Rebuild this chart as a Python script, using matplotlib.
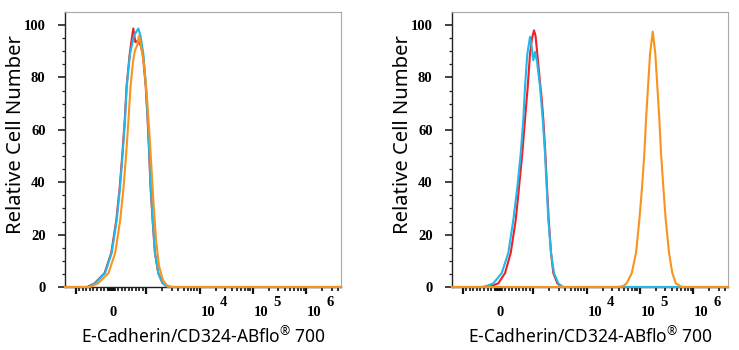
import matplotlib
matplotlib.use('Agg')
import matplotlib.pyplot as plt
import numpy as np

plt.rcParams['mathtext.fontset'] = 'custom'
plt.rcParams['mathtext.rm'] = 'Noto Sans'

# ---------------- data ----------------
# Left panel (fluorescence intensity, % of max)
left_red_x = [-1600, -680, -470, -185, 5, 150, 245, 322, 390, 440, 530, 590, 632, 690, 760, 850, 910, 985, 1060, 1135, 1205, 1315, 1455, 1680, 2030, 2550, 4.5e6]
left_red_y = [0, 0, 1.4, 5.3, 13, 25.6, 38, 51, 64, 76.5, 89, 95, 98.7, 93.5, 94, 92, 88, 76.5, 64, 51, 38, 25.6, 13, 5.3, 1.4, 0, 0]

left_orange_x = [-1600, -598, -371, -73, 118, 260, 354, 431, 496, 553, 624, 681, 738, 795, 851, 937, 1034, 1152, 1256, 1369, 1525, 1736, 2064, 2453, 3044, 4.5e6]
left_orange_y = [0, 0, 1.4, 5.3, 13, 25.6, 38, 51, 64, 76.5, 86, 90.5, 92, 96, 92, 85, 72, 58, 45, 32, 18, 8, 2.5, 0.6, 0, 0]

left_blue_x = [-1600, -655, -456, -172, 18, 161, 254, 331, 397, 445, 539, 652, 775, 837, 917, 994, 1066, 1142, 1213, 1322, 1461, 1685, 2037, 2562, 4.5e6]
left_blue_y = [0, 0, 1.4, 5.3, 13, 25.6, 38, 51, 64, 76.5, 89, 96, 98.7, 96, 89, 76.5, 64, 51, 38, 25.6, 13, 5.3, 1.4, 0, 0]

# Right panel
right_red_x = [-1600, -286, -181, 7, 198, 360, 502, 595, 689, 766, 843, 908, 965, 1034, 1103, 1192, 1340, 1441, 1545, 1685, 1813, 1951, 2155, 2380, 2829, 3421, 4.5e6]
right_red_y = [0, 0, 0.4, 1.4, 5.3, 13, 25.6, 38, 51, 64, 76.5, 89, 95, 98, 96, 89, 78, 72, 64, 51, 38, 25.6, 13, 5.3, 1.4, 0, 0]

right_orange_x = [-1600, 38930, 48960, 56710, 70390, 84770, 97740, 109800, 121300, 130600, 142300, 155200, 174400, 195100, 212700, 231900, 249600, 275700, 305800, 352600, 406600, 471000, 610600, 4.5e6]
right_orange_y = [0, 0, 0.4, 1.4, 5.3, 13, 25.6, 38, 51, 64, 76.5, 89, 97.5, 89, 76.5, 64, 51, 38, 25.6, 13, 5.3, 1.4, 0, 0]

right_blue_x = [-1600, -456, -323, -135, 104, 291, 433, 547, 644, 718, 766, 831, 908, 951, 1003, 1079, 1177, 1340, 1506, 1663, 1789, 1918, 2155, 2453, 2953, 3619, 4.5e6]
right_blue_y = [0, 0, 0.4, 1.4, 5.3, 13, 25.6, 38, 51, 64, 76.5, 89, 95.5, 92, 86.6, 89.8, 86, 76.5, 64, 51, 38, 25.6, 13, 5.3, 1.4, 0, 0]

y_ticks = [0, 20, 40, 60, 80, 100]
x_label_pos = [0, 1e4, 1e5, 1e6]
x_label_exp = ['', '4', '5', '6']
x_label_text = 'E-Cadherin/CD324-ABflo$^{\u00ae}$ 700'
y_label_text = 'Relative Cell Number'

RED = '#ee2128'
ORANGE = '#f7941d'
BLUE = '#22b8e8'

W, H = 739, 350
major_x = [-1e3, 1e3, 1e4, 1e5, 1e6]
minor_x = ([-k * 100 for k in range(2, 10)] + [-k * 10 for k in range(1, 10)] + [0] +
           [k * 10 for k in range(1, 10)] + [k * 100 for k in range(1, 10)] +
           [k * 1e3 for k in range(2, 10)] + [k * 1e4 for k in range(2, 10)] +
           [k * 1e5 for k in range(2, 10)] + [k * 1e6 for k in range(2, 5)])

LBL = dict(fontfamily='Liberation Serif', fontweight='bold', fontsize=10.5)


def build(use_lines=True, use_spines=True, use_y=True, use_ann=True, use_labels=True):
    fig = plt.figure(figsize=(W / 100, H / 100), dpi=100)
    panels = [
        (65, (left_red_x, left_red_y), (left_blue_x, left_blue_y), (left_orange_x, left_orange_y), 26),
        (452, (right_red_x, right_red_y), (right_blue_x, right_blue_y), (right_orange_x, right_orange_y), 413),
    ]
    for left_px, red, blue, orange, ylab_px in panels:
        ax = fig.add_axes([left_px / W, 63 / H, 276 / W, 275 / H])
        ax.set_xscale('symlog', linthresh=1000, linscale=0.594)
        ax.set_xlim(-1600, 4.5e6)
        ax.set_ylim(0, 105)
        ax.set_xticks(major_x)
        ax.set_xticks(minor_x, minor=True)
        ax.tick_params(axis='x', which='major', length=5, width=1.6, color='#111111',
                       labelbottom=False)
        ax.tick_params(axis='x', which='minor', length=3, width=1.2, color='#111111',
                       labelbottom=False)
        if use_lines:
            ax.plot(red[0], red[1], color=RED, lw=1.5, zorder=3, clip_on=False)
            ax.plot(blue[0], blue[1], color=BLUE, lw=1.5, zorder=4, clip_on=False)
            ax.plot(orange[0], orange[1], color=ORANGE, lw=1.5, zorder=5, clip_on=False)
        if use_spines:
            for s in ['top', 'right']:
                ax.spines[s].set_color('#a8a8a8')
                ax.spines[s].set_linewidth(0.8)
            for s in ['left', 'bottom']:
                ax.spines[s].set_color('#222222')
                ax.spines[s].set_linewidth(1.0)
        if use_y:
            ax.set_yticks(y_ticks)
            ax.set_yticks(list(range(0, 105, 5)), minor=True)
            ax.set_yticklabels([str(v) for v in y_ticks], **LBL)
            ax.tick_params(axis='y', which='major', length=5, width=1.2, pad=9, color='#222222')
            ax.tick_params(axis='y', which='minor', length=2.5, width=0.9, color='#222222')
        if use_ann:
            for pos, ex in zip(x_label_pos, x_label_exp):
                if ex == '':
                    ax.annotate('0', xy=(pos, 0), xycoords=('data', 'axes fraction'),
                                xytext=(2, -29), textcoords='offset pixels', ha='center',
                                va='baseline', **LBL)
                else:
                    ax.annotate('10', xy=(pos, 0), xycoords=('data', 'axes fraction'),
                                xytext=(1, -29), textcoords='offset pixels', ha='left',
                                va='baseline', **LBL)
                    ax.annotate(ex, xy=(pos, 0), xycoords=('data', 'axes fraction'),
                                xytext=(20, -19), textcoords='offset pixels', ha='left',
                                va='baseline', **LBL)
        if use_labels:
            ax.set_xlabel(x_label_text, fontfamily='Noto Sans', fontsize=12.5)
            ax.xaxis.set_label_coords(0.5, -0.145)
            ax.set_ylabel(y_label_text, fontfamily='Noto Sans', fontsize=14.5)
            ax.yaxis.set_label_coords((ylab_px - left_px) / 276, 0.553)
    return fig


def dark_cols(fig, name):
    fig.savefig(name, dpi=100)
    img = plt.imread(name)
    row = img[291, 60:345, :3].mean(axis=1)
    return (np.where(row < 0.5)[0] + 60).tolist()


fig = build()
fig.savefig('out.png', dpi=100)
full = dark_cols(fig, 'full.png')
if 199 not in full and 200 not in full:
    msgs = ['full: ' + str(full)]
    for key in ['use_lines', 'use_spines', 'use_y', 'use_ann', 'use_labels']:
        f = build(**{key: False})
        msgs.append(key + '=False: ' + str(dark_cols(f, 't.png')))
        plt.close(f)
    raise SystemExit('\n'.join(msgs))
